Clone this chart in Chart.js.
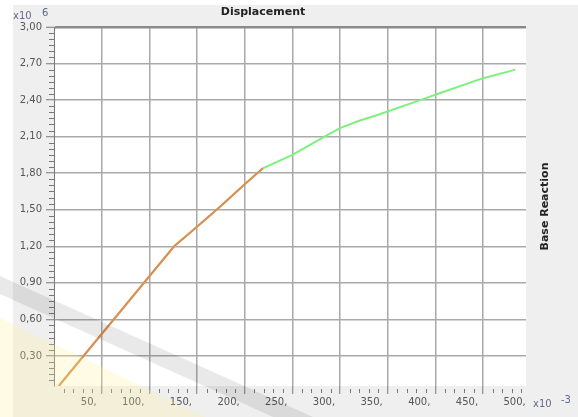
<!DOCTYPE html>
<html>
<head>
<meta charset="utf-8">
<script src="https://cdn.jsdelivr.net/npm/chart.js@4.4.1/dist/chart.umd.min.js"></script>
<style>
  html, body { margin: 0; padding: 0; background: #fff; }
  #wrap { position: relative; width: 578px; height: 417px; overflow: hidden; }
  #frame { position: absolute; left: 13px; top: 5px; width: 565px; height: 412px; background: #efefef; }
  #chart { position: absolute; left: 0; top: 0; }
  #glare { position: absolute; left: 0; top: 0; pointer-events: none; }
</style>
</head>
<body>
<div id="wrap">
  <div id="frame"></div>
  <canvas id="chart" width="578" height="417"></canvas>
  <svg id="glare" width="578" height="417">
    <polygon points="0,318 0,417 205,417" fill="rgba(255,240,150,0.25)"/>
    <polygon points="0,276 0,294 273,417 313,417" fill="rgba(0,0,0,0.085)"/>
  </svg>
</div>
<script>
'use strict';

// displacement in x10^-3, base reaction in x10^6 (as on the axes)
const pushDisp     = [5, 126, 150, 175, 200, 219, 250, 286, 300, 320, 340, 384, 402, 450, 484];
const pushReaction = [0.053, 1.20, 1.36, 1.53, 1.71, 1.84, 1.95, 2.11, 2.17, 2.23, 2.28, 2.40, 2.45, 2.58, 2.65];

const stepDisp     = [5, 126, 150, 175, 200, 219];
const stepReaction = [0.053, 1.20, 1.36, 1.53, 1.71, 1.84];

const xTicks = [50, 100, 150, 200, 250, 300, 350, 400, 450, 500];
const yTicks = [0.3, 0.6, 0.9, 1.2, 1.5, 1.8, 2.1, 2.4, 2.7, 3.0];

const X_MIN = 0, X_MAX = 495, Y_MIN = 0.053, Y_MAX = 3.0;

const FONT = 'DejaVu Sans';
const pts = (xs, ys) => xs.map((x, i) => ({ x, y: ys[i] }));
const inX = c => c.tick && c.tick.value <= X_MAX;

const extras = {
  id: 'extras',
  beforeDraw(chart) {
    const { ctx, chartArea: a } = chart;
    ctx.save();
    ctx.fillStyle = '#fff';
    ctx.fillRect(a.left, a.top, a.right - a.left, a.bottom - a.top);
    ctx.restore();
  },
  afterDraw(chart) {
    const { ctx, chartArea: a, scales } = chart;
    const sx = scales.x, sy = scales.y;
    ctx.save();
    ctx.strokeStyle = '#777';
    ctx.lineWidth = 1;
    ctx.beginPath();
    // minor ticks every 10 on x
    for (let v = 10; v < X_MAX; v += 10) {
      if (v % 50 === 0) continue;
      const px = Math.round(sx.getPixelForValue(v)) + 0.5;
      ctx.moveTo(px, a.bottom + 3);
      ctx.lineTo(px, a.bottom + 7);
    }
    // minor ticks every 0.05 on y
    for (let k = 2; k <= 59; k++) {
      if (k % 6 === 0) continue;
      const v = k * 0.05;
      if (v < Y_MIN) continue;
      const py = Math.round(sy.getPixelForValue(v)) + 0.5;
      ctx.moveTo(a.left - 5, py);
      ctx.lineTo(a.left, py);
    }
    ctx.stroke();

    // exponent labels
    ctx.font = '10px ' + FONT;
    ctx.textBaseline = 'middle';
    ctx.textAlign = 'left';
    ctx.fillStyle = '#6a6a8a';
    ctx.fillText('x10', 13, 16);
    ctx.fillText('x10', 533, 404);
    ctx.fillStyle = '#5a6a8a';
    ctx.fillText('6', 42, 13);
    ctx.fillText('-3', 561, 400);

    // right axis title
    ctx.font = 'bold 11px ' + FONT;
    ctx.fillStyle = '#222';
    ctx.textAlign = 'center';
    ctx.translate(545, (a.top + a.bottom) / 2);
    ctx.rotate(-Math.PI / 2);
    ctx.fillText('Base Reaction', 0, 0);
    ctx.restore();
  }
};

new Chart(document.getElementById('chart'), {
  type: 'line',
  data: {
    datasets: [
      { label: 'Step', data: pts(stepDisp, stepReaction), borderColor: '#e58a55', borderWidth: 2 },
      { label: 'Pushover', data: pts(pushDisp, pushReaction), borderColor: '#7ef07e', borderWidth: 2 },
    ],
  },
  options: {
    responsive: false,
    animation: false,
    devicePixelRatio: 1,
    elements: { point: { radius: 0 }, line: { tension: 0 } },
    layout: { padding: { left: 0, right: 52, top: 0, bottom: 0 } },
    plugins: {
      legend: { display: false },
      tooltip: { enabled: false },
      title: {
        display: true, text: 'Displacement', color: '#222',
        font: { family: FONT, size: 11, weight: 'bold', lineHeight: 1.2 },
        padding: { top: 6, bottom: 7.8 },
      },
    },
    scales: {
      x: {
        type: 'linear', min: X_MIN, max: X_MAX,
        afterBuildTicks: s => { s.ticks = xTicks.map(v => ({ value: v })); },
        afterFit: s => { s.height = 31; },
        border: { display: false },
        grid: {
          color: c => (inX(c) ? '#a9a9a9' : 'rgba(0,0,0,0)'),
          tickColor: c => (inX(c) ? '#777' : 'rgba(0,0,0,0)'),
          lineWidth: 1.5, tickLength: 8, tickWidth: 1,
        },
        ticks: {
          autoSkip: false, maxRotation: 0, align: 'end', labelOffset: -5, padding: 2,
          color: '#555', font: { family: FONT, size: 10 },
          callback: v => v + ',',
        },
      },
      y: {
        type: 'linear', min: Y_MIN, max: Y_MAX,
        afterBuildTicks: s => { s.ticks = yTicks.map(v => ({ value: v })); },
        afterFit: s => { s.width = 54; },
        border: { display: true, color: '#777', width: 1 },
        grid: {
          color: c => (c.tick && c.tick.value === 3 ? '#8a8a8a' : '#a9a9a9'),
          lineWidth: c => (c.tick && c.tick.value === 3 ? 2.5 : 1.5),
          tickLength: 8, tickColor: '#777', tickWidth: 1,
        },
        ticks: {
          autoSkip: false, padding: 4,
          color: '#555', font: { family: FONT, size: 10 },
          callback: v => v.toFixed(2).replace('.', ','),
        },
      },
    },
  },
  plugins: [extras],
});
</script>
</body>
</html>
